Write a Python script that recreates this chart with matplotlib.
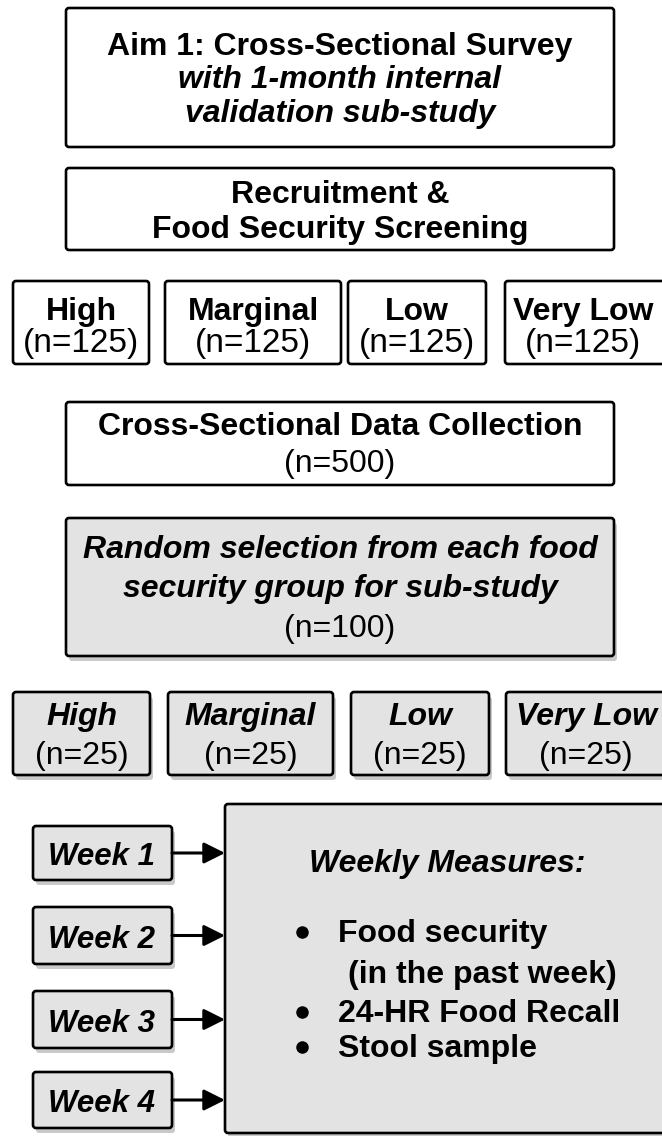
import matplotlib
matplotlib.use("Agg")
import matplotlib.pyplot as plt
from matplotlib.patches import FancyBboxPatch

plt.rcParams['font.family'] = ['Liberation Sans', 'DejaVu Sans']

# Flowchart content
aim_title = "Aim 1: Cross-Sectional Survey"
aim_sub = ["with 1-month internal", "validation sub-study"]
screening = ["Recruitment &", "Food Security Screening"]
groups = ["High", "Marginal", "Low", "Very Low"]
n_screened = [125, 125, 125, 125]
collection_title = "Cross-Sectional Data Collection"
n_collected = 500
selection_lines = ["Random selection from each food", "security group for sub-study"]
n_selected = 100
n_substudy = [25, 25, 25, 25]
weeks = ["Week 1", "Week 2", "Week 3", "Week 4"]
measures_title = "Weekly Measures:"
measures = [["Food security", "(in the past week)"], ["24-HR Food Recall"], ["Stool sample"]]

# Layout (pixel space, y pointing down)
W, H = 662, 1136
FS = 23
GRAY = "#e3e3e3"
SHADOW = "#c9c9c9"
row1_x = [(13, 149), (165, 341), (348, 486), (505, 690)]
row2_x = [(13, 150), (168, 333), (351, 489), (506, 690)]
week_y = [(826, 880), (907, 964), (991, 1048), (1072, 1128)]

fig = plt.figure(figsize=(W / 100, H / 100), dpi=100)
ax = fig.add_axes([0, 0, 1, 1])
ax.set_xlim(0, W)
ax.set_ylim(H, 0)
ax.axis('off')


def box(x0, y0, x1, y1, gray=False):
    if gray:
        sh = FancyBboxPatch((x0 + 3, y0 + 5), x1 - x0, y1 - y0,
                            boxstyle="round,pad=0,rounding_size=3",
                            fc=SHADOW, ec="none", zorder=1)
        ax.add_patch(sh)
    p = FancyBboxPatch((x0, y0), x1 - x0, y1 - y0,
                       boxstyle="round,pad=0,rounding_size=3",
                       fc=GRAY if gray else "white", ec="black", lw=1.9, zorder=2)
    ax.add_patch(p)


def txt(x, y, s, weight="bold", style="normal", ha="center", size=FS):
    ax.text(x, y, s, ha=ha, va="baseline", fontsize=size,
            fontweight=weight, fontstyle=style, zorder=3)


# Aim box
box(66, 8, 614, 147)
txt(340, 55, aim_title)
for i, line in enumerate(aim_sub):
    txt(340, 88 + 34 * i, line, style="italic")

# Screening box
box(66, 168, 614, 250)
txt(340, 203, screening[0])
txt(340, 238, screening[1])

# Screened groups
for (x0, x1), g, n in zip(row1_x, groups, n_screened):
    box(x0, 281, x1, 364)
    xc = (x0 + x1) / 2 if x1 < W else 583
    txt(xc, 320, g)
    txt(xc, 352, f"(n={n})", weight="normal", size=24)

# Data collection box
box(66, 402, 614, 485)
txt(340, 435, collection_title)
txt(340, 472, f"(n={n_collected})", weight="normal")

# Random selection box
box(66, 518, 614, 656, gray=True)
txt(340, 558, selection_lines[0], style="italic")
txt(340, 597, selection_lines[1], style="italic")
txt(340, 637, f"(n={n_selected})", weight="normal")

# Sub-study groups
for (x0, x1), g, n in zip(row2_x, groups, n_substudy):
    box(x0, 692, x1, 775, gray=True)
    xc = (x0 + x1) / 2 if x1 < W else 586
    txt(xc, 725, g, style="italic")
    txt(xc, 764, f"(n={n})", weight="normal")

# Weekly measures box
box(225, 804, 700, 1133, gray=True)
txt(447, 872, measures_title, style="italic")
base = [942, 1022, 1057]
for yb, item in zip(base, measures):
    ax.plot(302, yb - 10, "o", ms=8, color="black", zorder=3)
    txt(338, yb, item[0], ha="left")
    if len(item) > 1:
        txt(348, yb + 41, item[1], ha="left")

# Week boxes and arrows
for (y0, y1), w in zip(week_y, weeks):
    box(33, y0, 172, y1, gray=True)
    yc = (y0 + y1) / 2
    txt(102, yc + 12, w, style="italic", size=22.5)
    ax.annotate("", xy=(225, yc), xytext=(172, yc),
                arrowprops=dict(arrowstyle="-|>", lw=2.2, color="black",
                                mutation_scale=32, shrinkA=0, shrinkB=0),
                zorder=4)

fig.savefig("out.png", dpi=100)
